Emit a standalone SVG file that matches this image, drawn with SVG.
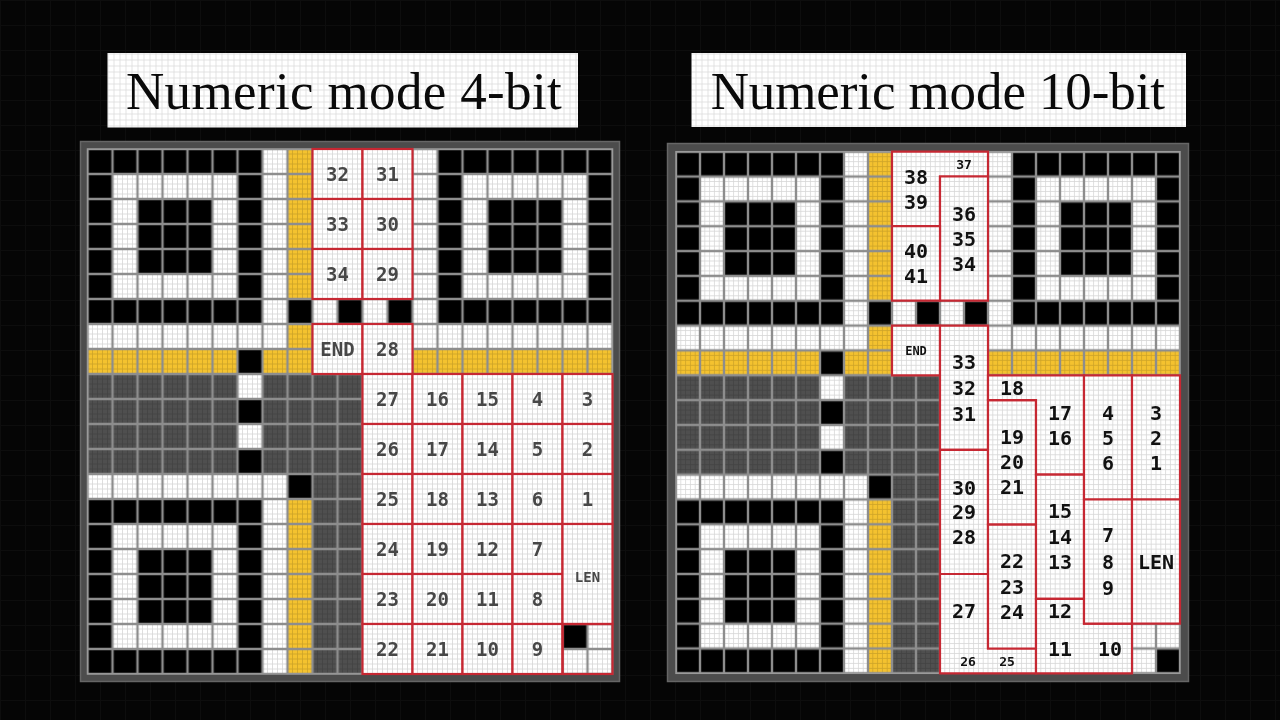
<svg xmlns="http://www.w3.org/2000/svg" xmlns:xlink="http://www.w3.org/1999/xlink" width="1280" height="720" viewBox="0 0 1280 720">
<style>
.ln{font-family:"DejaVu Sans Mono","Liberation Mono",monospace;font-weight:bold;font-size:19px;fill:#474747;text-anchor:middle}
.lns{font-size:14px}
.rn{font-family:"DejaVu Sans Mono","Liberation Mono",monospace;font-weight:bold;font-size:20px;fill:#111;text-anchor:middle}
.rns{font-size:13px}
.title{font-family:"Liberation Serif","DejaVu Serif",serif;font-size:53px;fill:#0a0a0a}
.bf{fill:#fff;stroke:none}
.bl{stroke:#c62833;stroke-width:2.2;stroke-linejoin:miter}
.blL{fill:url(#subL)}
.blR{fill:url(#subR)}
.mul{mix-blend-mode:multiply}
.y{fill:#f4c22f}
.k{fill:#000}
.g{fill:#4f4f4f}
.w{fill:#fff}
.frame{fill:#4c4c4c;stroke:#666;stroke-width:1.5}
</style>
<defs>
  <pattern id="bg" patternUnits="userSpaceOnUse" width="25" height="25">
    <path d="M0 0.5H25M0.5 0V25" stroke="#0d0d0d" stroke-width="1" fill="none"/>
  </pattern>
  <pattern id="subT" patternUnits="userSpaceOnUse" x="-3" y="-3" width="6" height="6">
    <path d="M0 3H6M3 0V6" stroke="#dcdcdc" stroke-width="0.8" fill="none"/>
  </pattern>
  <pattern id="modL" patternUnits="userSpaceOnUse" x="87.5" y="149" width="25" height="25">
    <path d="M0 0H25M0 25H25M0 0V25M25 0V25" stroke="#8d8d8d" stroke-width="2.4" fill="none"/>
  </pattern>
  <pattern id="modR" patternUnits="userSpaceOnUse" x="676" y="151.7" width="24" height="24.84">
    <path d="M0 0H24M0 24.84H24M0 0V24.84M24 0V24.84" stroke="#8d8d8d" stroke-width="2.4" fill="none"/>
  </pattern>
  <pattern id="subL" patternUnits="userSpaceOnUse" x="85" y="146.5" width="5" height="5">
    <path d="M0 2.5H5M2.5 0V5" stroke="#d6d6d6" stroke-width="0.8" fill="none"/>
  </pattern>
  <pattern id="subR" patternUnits="userSpaceOnUse" x="673.6" y="149.216" width="4.8" height="4.968">
    <path d="M0 2.484H4.8M2.4 0V4.968" stroke="#d6d6d6" stroke-width="0.8" fill="none"/>
  </pattern>
  <g id="finder">
    <rect width="7" height="7" class="k"/>
    <rect x="1" y="1" width="5" height="5" class="w"/>
    <rect x="2" y="2" width="3" height="3" class="k"/>
  </g>
  <g id="qrbase">
    <rect width="21" height="21" class="w"/>
    <use xlink:href="#finder"/>
    <use xlink:href="#finder" x="14"/>
    <use xlink:href="#finder" y="14"/>
    <rect x="8" y="0" width="1" height="6" class="y"/>
    <rect x="8" y="7" width="1" height="2" class="y"/>
    <rect x="0" y="8" width="6" height="1" class="y"/>
    <rect x="7" y="8" width="1" height="1" class="y"/>
    <rect x="13" y="8" width="8" height="1" class="y"/>
    <rect x="8" y="14" width="1" height="7" class="y"/>
    <rect x="8" y="6" width="1" height="1" class="k"/>
    <rect x="10" y="6" width="1" height="1" class="k"/>
    <rect x="12" y="6" width="1" height="1" class="k"/>
    <rect x="6" y="8" width="1" height="1" class="k"/>
    <rect x="6" y="10" width="1" height="1" class="k"/>
    <rect x="6" y="12" width="1" height="1" class="k"/>
    <rect x="8" y="13" width="1" height="1" class="k"/>
    <rect x="0" y="9" width="6" height="4" class="g"/>
    <rect x="7" y="9" width="4" height="4" class="g"/>
    <rect x="9" y="13" width="2" height="8" class="g"/>
  </g>
</defs>

<rect width="1280" height="720" fill="#050505"/>
<rect width="1280" height="720" fill="url(#bg)"/>

<!-- Titles -->
<g id="title-left">
  <rect x="107.5" y="53" width="470.5" height="74.5" fill="#fff"/>
  <rect x="107.5" y="53" width="470.5" height="74.5" fill="url(#subT)" class="mul"/>
  <text class="title" x="126" y="108.5" textLength="435.7">Numeric mode 4-bit</text>
</g>
<g id="title-right">
  <rect x="691.5" y="53" width="494.5" height="74" fill="#fff"/>
  <rect x="691.5" y="53" width="494.5" height="74" fill="url(#subT)" class="mul"/>
  <text class="title" x="710.7" y="108.5" textLength="454.3">Numeric mode 10-bit</text>
</g>

<!-- LEFT GRID -->
<g id="grid-left">
  <rect class="frame" x="80.5" y="141.5" width="539" height="540"/>
  <g transform="translate(87.5 149) scale(25)">
    <use xlink:href="#qrbase"/>
    <rect x="19" y="19" width="1" height="1" class="k"/>
  </g>
  <rect x="87.5" y="149" width="525" height="525" fill="url(#subL)" class="mul"/>
  <rect x="87.5" y="149" width="525" height="525" fill="url(#modL)"/>
  <rect x="87.5" y="149" width="525" height="525" fill="none" stroke="#9a9a9a" stroke-width="1.5"/>
</g>

<g id="left-boxes">
  <g id="L32"><rect class="bf" x="312.5" y="149" width="50" height="50"/><rect class="blL bl" x="312.5" y="149" width="50" height="50"/><text class="ln" x="337.5" y="180.9">32</text></g>
  <g id="L31"><rect class="bf" x="362.5" y="149" width="50" height="50"/><rect class="blL bl" x="362.5" y="149" width="50" height="50"/><text class="ln" x="387.5" y="180.9">31</text></g>
  <g id="L33"><rect class="bf" x="312.5" y="199" width="50" height="50"/><rect class="blL bl" x="312.5" y="199" width="50" height="50"/><text class="ln" x="337.5" y="230.9">33</text></g>
  <g id="L30"><rect class="bf" x="362.5" y="199" width="50" height="50"/><rect class="blL bl" x="362.5" y="199" width="50" height="50"/><text class="ln" x="387.5" y="230.9">30</text></g>
  <g id="L34"><rect class="bf" x="312.5" y="249" width="50" height="50"/><rect class="blL bl" x="312.5" y="249" width="50" height="50"/><text class="ln" x="337.5" y="280.9">34</text></g>
  <g id="L29"><rect class="bf" x="362.5" y="249" width="50" height="50"/><rect class="blL bl" x="362.5" y="249" width="50" height="50"/><text class="ln" x="387.5" y="280.9">29</text></g>
  <g id="LEND"><rect class="bf" x="312.5" y="324" width="50" height="50"/><rect class="blL bl" x="312.5" y="324" width="50" height="50"/><text class="ln" x="337.5" y="355.9">END</text></g>
  <g id="L28"><rect class="bf" x="362.5" y="324" width="50" height="50"/><rect class="blL bl" x="362.5" y="324" width="50" height="50"/><text class="ln" x="387.5" y="355.9">28</text></g>

  <g id="L27"><rect class="bf" x="362.5" y="374" width="50" height="50"/><rect class="blL bl" x="362.5" y="374" width="50" height="50"/><text class="ln" x="387.5" y="405.9">27</text></g>
  <g id="L26"><rect class="bf" x="362.5" y="424" width="50" height="50"/><rect class="blL bl" x="362.5" y="424" width="50" height="50"/><text class="ln" x="387.5" y="455.9">26</text></g>
  <g id="L25"><rect class="bf" x="362.5" y="474" width="50" height="50"/><rect class="blL bl" x="362.5" y="474" width="50" height="50"/><text class="ln" x="387.5" y="505.9">25</text></g>
  <g id="L24"><rect class="bf" x="362.5" y="524" width="50" height="50"/><rect class="blL bl" x="362.5" y="524" width="50" height="50"/><text class="ln" x="387.5" y="555.9">24</text></g>
  <g id="L23"><rect class="bf" x="362.5" y="574" width="50" height="50"/><rect class="blL bl" x="362.5" y="574" width="50" height="50"/><text class="ln" x="387.5" y="605.9">23</text></g>
  <g id="L22"><rect class="bf" x="362.5" y="624" width="50" height="50"/><rect class="blL bl" x="362.5" y="624" width="50" height="50"/><text class="ln" x="387.5" y="655.9">22</text></g>

  <g id="L16"><rect class="bf" x="412.5" y="374" width="50" height="50"/><rect class="blL bl" x="412.5" y="374" width="50" height="50"/><text class="ln" x="437.5" y="405.9">16</text></g>
  <g id="L17"><rect class="bf" x="412.5" y="424" width="50" height="50"/><rect class="blL bl" x="412.5" y="424" width="50" height="50"/><text class="ln" x="437.5" y="455.9">17</text></g>
  <g id="L18"><rect class="bf" x="412.5" y="474" width="50" height="50"/><rect class="blL bl" x="412.5" y="474" width="50" height="50"/><text class="ln" x="437.5" y="505.9">18</text></g>
  <g id="L19"><rect class="bf" x="412.5" y="524" width="50" height="50"/><rect class="blL bl" x="412.5" y="524" width="50" height="50"/><text class="ln" x="437.5" y="555.9">19</text></g>
  <g id="L20"><rect class="bf" x="412.5" y="574" width="50" height="50"/><rect class="blL bl" x="412.5" y="574" width="50" height="50"/><text class="ln" x="437.5" y="605.9">20</text></g>
  <g id="L21"><rect class="bf" x="412.5" y="624" width="50" height="50"/><rect class="blL bl" x="412.5" y="624" width="50" height="50"/><text class="ln" x="437.5" y="655.9">21</text></g>

  <g id="L15"><rect class="bf" x="462.5" y="374" width="50" height="50"/><rect class="blL bl" x="462.5" y="374" width="50" height="50"/><text class="ln" x="487.5" y="405.9">15</text></g>
  <g id="L14"><rect class="bf" x="462.5" y="424" width="50" height="50"/><rect class="blL bl" x="462.5" y="424" width="50" height="50"/><text class="ln" x="487.5" y="455.9">14</text></g>
  <g id="L13"><rect class="bf" x="462.5" y="474" width="50" height="50"/><rect class="blL bl" x="462.5" y="474" width="50" height="50"/><text class="ln" x="487.5" y="505.9">13</text></g>
  <g id="L12"><rect class="bf" x="462.5" y="524" width="50" height="50"/><rect class="blL bl" x="462.5" y="524" width="50" height="50"/><text class="ln" x="487.5" y="555.9">12</text></g>
  <g id="L11"><rect class="bf" x="462.5" y="574" width="50" height="50"/><rect class="blL bl" x="462.5" y="574" width="50" height="50"/><text class="ln" x="487.5" y="605.9">11</text></g>
  <g id="L10"><rect class="bf" x="462.5" y="624" width="50" height="50"/><rect class="blL bl" x="462.5" y="624" width="50" height="50"/><text class="ln" x="487.5" y="655.9">10</text></g>

  <g id="L4"><rect class="bf" x="512.5" y="374" width="50" height="50"/><rect class="blL bl" x="512.5" y="374" width="50" height="50"/><text class="ln" x="537.5" y="405.9">4</text></g>
  <g id="L5"><rect class="bf" x="512.5" y="424" width="50" height="50"/><rect class="blL bl" x="512.5" y="424" width="50" height="50"/><text class="ln" x="537.5" y="455.9">5</text></g>
  <g id="L6"><rect class="bf" x="512.5" y="474" width="50" height="50"/><rect class="blL bl" x="512.5" y="474" width="50" height="50"/><text class="ln" x="537.5" y="505.9">6</text></g>
  <g id="L7"><rect class="bf" x="512.5" y="524" width="50" height="50"/><rect class="blL bl" x="512.5" y="524" width="50" height="50"/><text class="ln" x="537.5" y="555.9">7</text></g>
  <g id="L8"><rect class="bf" x="512.5" y="574" width="50" height="50"/><rect class="blL bl" x="512.5" y="574" width="50" height="50"/><text class="ln" x="537.5" y="605.9">8</text></g>
  <g id="L9"><rect class="bf" x="512.5" y="624" width="50" height="50"/><rect class="blL bl" x="512.5" y="624" width="50" height="50"/><text class="ln" x="537.5" y="655.9">9</text></g>

  <g id="L3"><rect class="bf" x="562.5" y="374" width="50" height="50"/><rect class="blL bl" x="562.5" y="374" width="50" height="50"/><text class="ln" x="587.5" y="405.9">3</text></g>
  <g id="L2"><rect class="bf" x="562.5" y="424" width="50" height="50"/><rect class="blL bl" x="562.5" y="424" width="50" height="50"/><text class="ln" x="587.5" y="455.9">2</text></g>
  <g id="L1"><rect class="bf" x="562.5" y="474" width="50" height="50"/><rect class="blL bl" x="562.5" y="474" width="50" height="50"/><text class="ln" x="587.5" y="505.9">1</text></g>
  <g id="LLEN"><rect class="bf" x="562.5" y="524" width="50" height="100"/><rect class="blL bl" x="562.5" y="524" width="50" height="100"/><text class="ln lns" x="587.5" y="581.5">LEN</text></g>
  <rect x="562.5" y="624" width="50" height="50" fill="none" class="bl"/>
</g>

<!-- RIGHT GRID -->
<g id="grid-right">
  <rect class="frame" x="667.5" y="143.5" width="521" height="538"/>
  <g transform="translate(676 151.7) scale(24 24.84)">
    <use xlink:href="#qrbase"/>
    <rect x="20" y="20" width="1" height="1" class="k"/>
  </g>
  <rect x="676" y="151.7" width="504" height="521.6" fill="url(#subR)" class="mul"/>
  <rect x="676" y="151.7" width="504" height="521.6" fill="url(#modR)"/>
  <rect x="676" y="151.7" width="504" height="521.6" fill="none" stroke="#9a9a9a" stroke-width="1.5"/>
</g>

<g id="right-boxes">
  <g id="R37-39"><path class="bf" d="M892 151.7H988V176.5H940V226.2H892Z"/><path class="blR bl" d="M892 151.7H988V176.5H940V226.2H892Z"/>
    <text class="rn rns" x="964" y="168.5">37</text><text class="rn" x="916" y="183.8">38</text><text class="rn" x="916" y="208.8">39</text></g>
  <g id="R34-36"><path class="bf" d="M940 176.5H988V300.7H940Z"/><path class="blR bl" d="M940 176.5H988V300.7H940Z"/>
    <text class="rn" x="964" y="220.9">36</text><text class="rn" x="964" y="245.9">35</text><text class="rn" x="964" y="270.9">34</text></g>
  <g id="R40-41"><path class="bf" d="M892 226.2H940V300.7H892Z"/><path class="blR bl" d="M892 226.2H940V300.7H892Z"/>
    <text class="rn" x="916" y="258.3">40</text><text class="rn" x="916" y="283.3">41</text></g>
  <g id="REND"><path class="bf" d="M892 325.6H940V375.3H892Z"/><path class="blR bl" d="M892 325.6H940V375.3H892Z"/>
    <text class="rn rns" x="916" y="355" style="font-size:12px">END</text></g>
  <g id="R31-33"><path class="bf" d="M940 325.6H988V449.8H940Z"/><path class="blR bl" d="M940 325.6H988V449.8H940Z"/>
    <text class="rn" x="964" y="369.3">33</text><text class="rn" x="964" y="395">32</text><text class="rn" x="964" y="420.7">31</text></g>
  <g id="R28-30"><path class="bf" d="M940 449.8H988V574H940Z"/><path class="blR bl" d="M940 449.8H988V574H940Z"/>
    <text class="rn" x="964" y="495.3">30</text><text class="rn" x="964" y="519.3">29</text><text class="rn" x="964" y="544.3">28</text></g>
  <g id="R25-27"><path class="bf" d="M940 574H988V648.5H1036V673.3H940Z"/><path class="blR bl" d="M940 574H988V648.5H1036V673.3H940Z"/>
    <text class="rn" x="964" y="618.3">27</text><text class="rn rns" x="968" y="666">26</text><text class="rn rns" x="1007" y="666">25</text></g>
  <g id="R22-24"><path class="bf" d="M988 524.3H1036V648.5H988Z"/><path class="blR bl" d="M988 524.3H1036V648.5H988Z"/>
    <text class="rn" x="1012" y="568.3">22</text><text class="rn" x="1012" y="593.8">23</text><text class="rn" x="1012" y="619.3">24</text></g>
  <g id="R19-21"><path class="bf" d="M988 400.1H1036V524.3H988Z"/><path class="blR bl" d="M988 400.1H1036V524.3H988Z"/>
    <text class="rn" x="1012" y="444.3">19</text><text class="rn" x="1012" y="469.3">20</text><text class="rn" x="1012" y="494.3">21</text></g>
  <g id="R16-18"><path class="bf" d="M988 375.3H1084V474.6H1036V400.1H988Z"/><path class="blR bl" d="M988 375.3H1084V474.6H1036V400.1H988Z"/>
    <text class="rn" x="1012" y="395">18</text><text class="rn" x="1060" y="419.8">17</text><text class="rn" x="1060" y="444.8">16</text></g>
  <g id="R13-15"><path class="bf" d="M1036 474.6H1084V598.8H1036Z"/><path class="blR bl" d="M1036 474.6H1084V598.8H1036Z"/>
    <text class="rn" x="1060" y="518.3">15</text><text class="rn" x="1060" y="544.3">14</text><text class="rn" x="1060" y="569.3">13</text></g>
  <g id="R10-12"><path class="bf" d="M1036 598.8H1084V623.7H1132V673.3H1036Z"/><path class="blR bl" d="M1036 598.8H1084V623.7H1132V673.3H1036Z"/>
    <text class="rn" x="1060" y="618.3">12</text><text class="rn" x="1060" y="655.8">11</text><text class="rn" x="1110" y="655.8">10</text></g>
  <g id="R4-6"><path class="bf" d="M1084 375.3H1132V499.5H1084Z"/><path class="blR bl" d="M1084 375.3H1132V499.5H1084Z"/>
    <text class="rn" x="1108" y="419.8">4</text><text class="rn" x="1108" y="444.8">5</text><text class="rn" x="1108" y="469.8">6</text></g>
  <g id="R1-3"><path class="bf" d="M1132 375.3H1180V499.5H1132Z"/><path class="blR bl" d="M1132 375.3H1180V499.5H1132Z"/>
    <text class="rn" x="1156" y="419.8">3</text><text class="rn" x="1156" y="444.8">2</text><text class="rn" x="1156" y="469.8">1</text></g>
  <g id="R7-9"><path class="bf" d="M1084 499.5H1132V623.7H1084Z"/><path class="blR bl" d="M1084 499.5H1132V623.7H1084Z"/>
    <text class="rn" x="1108" y="542.3">7</text><text class="rn" x="1108" y="568.9">8</text><text class="rn" x="1108" y="595.3">9</text></g>
  <g id="RLEN"><path class="bf" d="M1132 499.5H1180V623.7H1132Z"/><path class="blR bl" d="M1132 499.5H1180V623.7H1132Z"/>
    <text class="rn" x="1156" y="568.9">LEN</text></g>
</g>
</svg>
